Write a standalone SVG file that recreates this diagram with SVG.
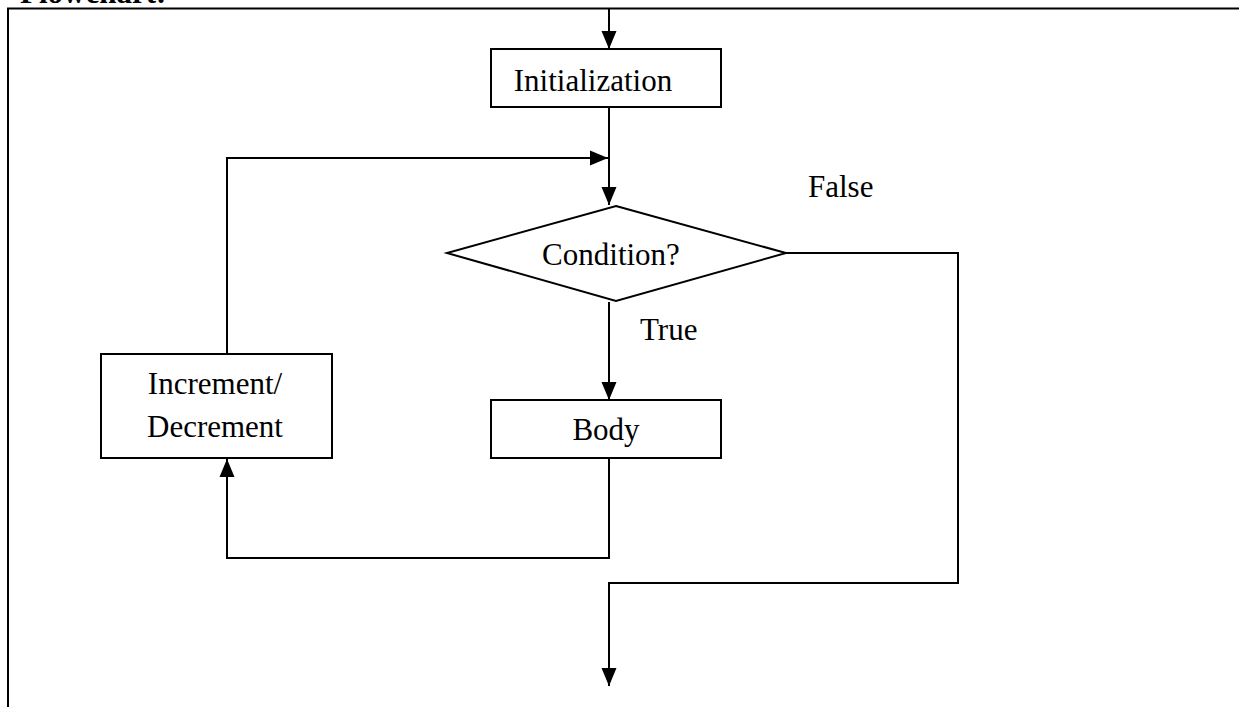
<svg xmlns="http://www.w3.org/2000/svg" width="1239" height="707" viewBox="0 0 1239 707">
<style>
.box{fill:#fff;stroke:#000;stroke-width:2}
.ln{fill:none;stroke:#000;stroke-width:2}
.t{font-family:"Liberation Serif","Times New Roman",serif;font-size:31px;fill:#000}
</style>
<defs>
<marker id="ah" markerUnits="userSpaceOnUse" markerWidth="18" markerHeight="16" viewBox="0 0 18 16" refX="18" refY="8" orient="auto">
<path d="M0,0.5 L18,8 L0,15.5 Z" fill="#000"/>
</marker>
</defs>
<rect width="1239" height="707" fill="#fff"/>
<text class="t" x="20" y="3" font-weight="bold">Flowchart:</text>
<path class="ln" d="M8,707 V8.5 H1239"/>
<g id="connectors">
<path class="ln" d="M609,9 V49" marker-end="url(#ah)"/>
<path class="ln" d="M609,107 V205" marker-end="url(#ah)"/>
<path class="ln" d="M227,354 V158 H608" marker-end="url(#ah)"/>
<path class="ln" d="M609,302 V400" marker-end="url(#ah)"/>
<path class="ln" d="M609,458 V558 H227 V459" marker-end="url(#ah)"/>
<path class="ln" d="M786,253 H958 V583 H609 V686" marker-end="url(#ah)"/>
</g>
<g id="init">
<rect class="box" x="491" y="49" width="230" height="58"/>
<text class="t" x="593" y="91" text-anchor="middle">Initialization</text>
</g>
<g id="cond">
<path class="box" d="M616,206 L786,253 L616,301 L447,253 Z"/>
<text class="t" x="611" y="265" text-anchor="middle">Condition?</text>
</g>
<g id="body">
<rect class="box" x="491" y="400" width="230" height="58"/>
<text class="t" x="606" y="440" text-anchor="middle">Body</text>
</g>
<g id="incdec">
<rect class="box" x="101" y="354" width="231" height="104"/>
<text class="t" x="215" y="394" text-anchor="middle">Increment/</text>
<text class="t" x="215" y="437" text-anchor="middle">Decrement</text>
</g>
<g id="labels">
<text class="t" x="640" y="340">True</text>
<text class="t" x="808" y="197">False</text>
</g>
</svg>
